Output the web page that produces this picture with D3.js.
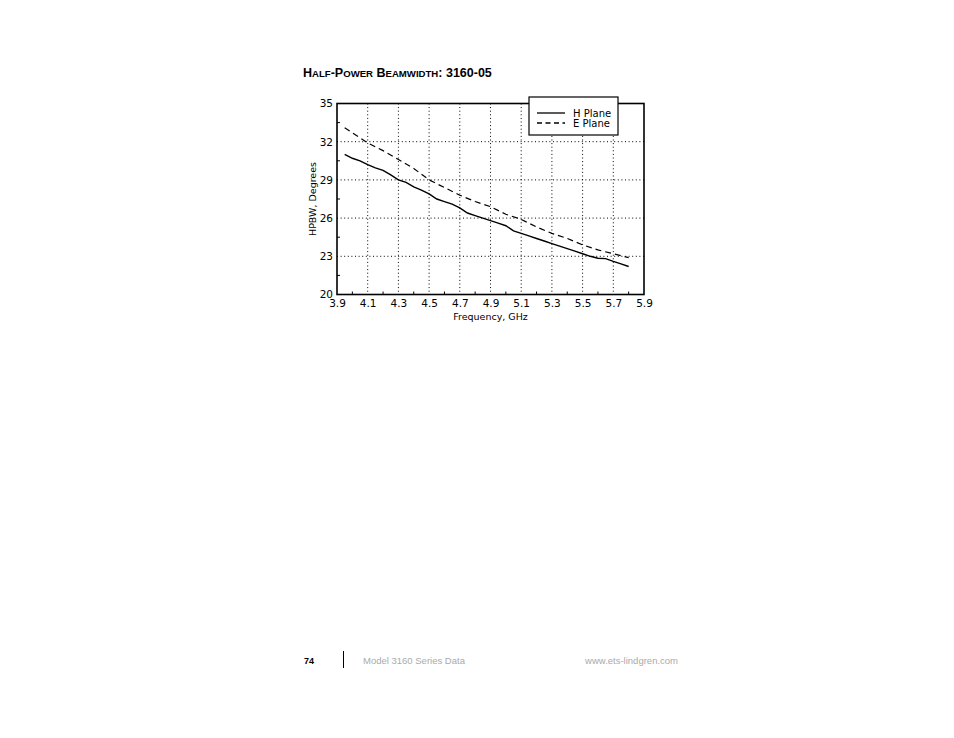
<!DOCTYPE html>
<html>
<head>
<meta charset="utf-8">
<script src="https://cdn.jsdelivr.net/npm/d3@7"></script>
<style>
  body { margin: 0; background: #fff; }
  svg { display: block; }
</style>
</head>
<body>
<svg id="page" width="954" height="738"></svg>
<script>
// data
const freqH = [3.95, 4.0, 4.05, 4.1, 4.15, 4.2, 4.25, 4.3, 4.35, 4.4, 4.45, 4.5, 4.55, 4.6, 4.65, 4.7, 4.75, 4.8, 4.85, 4.9,
  4.95, 5.0, 5.05, 5.1, 5.15, 5.2, 5.25, 5.3, 5.35, 5.4, 5.45, 5.5, 5.55, 5.6, 5.65, 5.7, 5.75, 5.8];
const hPlane = [31.0, 30.7, 30.5, 30.2, 29.95, 29.75, 29.4, 29.0, 28.8, 28.45, 28.2, 27.9, 27.5, 27.3, 27.1, 26.8, 26.4, 26.2, 26.0, 25.8,
  25.6, 25.4, 25.0, 24.8, 24.6, 24.4, 24.2, 24.0, 23.8, 23.6, 23.4, 23.2, 23.0, 22.85, 22.82, 22.6, 22.4, 22.2];
const freqE = [3.95, 4.0, 4.1, 4.2, 4.3, 4.4, 4.5, 4.6, 4.7, 4.8, 4.9, 5.0, 5.1, 5.2, 5.3, 5.4, 5.5, 5.6, 5.7, 5.8];
const ePlane = [33.1, 32.7, 31.9, 31.3, 30.6, 29.9, 29.0, 28.4, 27.8, 27.3, 26.9, 26.3, 25.9, 25.3, 24.8, 24.4, 23.9, 23.5, 23.2, 22.9];
const xTicks = [3.9, 4.1, 4.3, 4.5, 4.7, 4.9, 5.1, 5.3, 5.5, 5.7, 5.9];
const yTicks = [20, 23, 26, 29, 32, 35];
const seriesNames = ['H Plane', 'E Plane'];

const svg = d3.select('#page');
const plotFont = '"DejaVu Sans", sans-serif';
const pageFont = '"Liberation Sans", Arial, sans-serif';

const x = d3.scaleLinear().domain([3.9, 5.9]).range([337, 644]);
const y = d3.scaleLinear().domain([20, 35]).range([294.5, 103.5]);

// title, small caps built by hand (lower case drawn as smaller capitals)
const title = svg.append('text')
  .attr('x', 303).attr('y', 77)
  .style('font-family', pageFont)
  .style('font-weight', 'bold');
'Half-Power Beamwidth: 3160-05'.match(/[a-z]+|[^a-z]+/g).forEach((part) => {
  const small = /[a-z]/.test(part);
  title.append('tspan')
    .style('font-size', small ? '9.6px' : '12.5px')
    .text(part.toUpperCase());
});

const g = svg.append('g');

// dotted grid
g.selectAll('.gx').data(xTicks.slice(1, -1)).enter().append('line')
  .attr('x1', (d) => x(d)).attr('x2', (d) => x(d))
  .attr('y1', y(35)).attr('y2', y(20))
  .attr('stroke', '#000').attr('stroke-width', 1)
  .attr('stroke-dasharray', '1,2.6');
g.selectAll('.gy').data(yTicks.slice(1, -1)).enter().append('line')
  .attr('x1', x(3.9)).attr('x2', x(5.9))
  .attr('y1', (d) => y(d)).attr('y2', (d) => y(d))
  .attr('stroke', '#000').attr('stroke-width', 1)
  .attr('stroke-dasharray', '1,2.6');

// axes (labels only, ticks drawn as minor marks)
const xAxis = g.append('g')
  .attr('transform', `translate(0,${y(20)})`)
  .call(d3.axisBottom(x).tickValues(xTicks).tickSize(0).tickPadding(5).tickFormat(d3.format('.1f')));
const yAxis = g.append('g')
  .attr('transform', `translate(${x(3.9)},0)`)
  .call(d3.axisLeft(y).tickValues(yTicks).tickSize(0).tickPadding(4).tickFormat(d3.format('d')));
[xAxis, yAxis].forEach((a) => {
  a.select('.domain').remove();
  a.selectAll('text').style('font-family', plotFont).style('font-size', '10.5px').attr('fill', '#000');
});

// minor ticks
const xMinor = xTicks.slice(0, -1).map((d) => d + 0.1);
const yMinor = yTicks.slice(0, -1).map((d) => d + 1.5);
g.selectAll('.mx').data(xMinor).enter().append('line')
  .attr('x1', (d) => x(d)).attr('x2', (d) => x(d))
  .attr('y1', y(20)).attr('y2', y(20) - 3)
  .attr('stroke', '#000');
g.selectAll('.my').data(yMinor).enter().append('line')
  .attr('x1', x(3.9)).attr('x2', x(3.9) + 3)
  .attr('y1', (d) => y(d)).attr('y2', (d) => y(d))
  .attr('stroke', '#000');

// frame
g.append('rect')
  .attr('x', x(3.9)).attr('y', y(35))
  .attr('width', x(5.9) - x(3.9)).attr('height', y(20) - y(35))
  .attr('fill', 'none').attr('stroke', '#000').attr('stroke-width', 1.6);

// curves
const hData = freqH.map((f, i) => [f, hPlane[i]]);
const eData = freqE.map((f, i) => [f, ePlane[i]]);
const line = d3.line().x((d) => x(d[0])).y((d) => y(d[1]));
g.append('path').datum(hData)
  .attr('d', line).attr('fill', 'none')
  .attr('stroke', '#000').attr('stroke-width', 1.4);
g.append('path').datum(eData)
  .attr('d', line).attr('fill', 'none')
  .attr('stroke', '#000').attr('stroke-width', 1.2)
  .attr('stroke-dasharray', '6,4');

// axis titles
svg.append('text')
  .attr('x', (x(3.9) + x(5.9)) / 2).attr('y', 320)
  .attr('text-anchor', 'middle')
  .style('font-family', plotFont).style('font-size', '9.5px')
  .text('Frequency, GHz');
svg.append('text')
  .attr('transform', `translate(316,${(y(20) + y(35)) / 2}) rotate(-90)`)
  .attr('text-anchor', 'middle')
  .style('font-family', plotFont).style('font-size', '9.5px')
  .text('HPBW, Degrees');

// legend
const legend = svg.append('g');
legend.append('rect')
  .attr('x', 529).attr('y', 97).attr('width', 89).attr('height', 38)
  .attr('fill', '#fff').attr('stroke', '#000').attr('stroke-width', 1.2);
seriesNames.forEach((name, i) => {
  const ly = 113 + i * 10;
  legend.append('line')
    .attr('x1', 537).attr('x2', 565).attr('y1', ly).attr('y2', ly)
    .attr('stroke', '#000').attr('stroke-width', 1.3)
    .attr('stroke-dasharray', i === 0 ? null : '5,3.5');
  legend.append('text')
    .attr('x', 573).attr('y', ly + 3.5)
    .style('font-family', plotFont).style('font-size', '10px')
    .text(name);
});

// page footer
svg.append('text')
  .attr('x', 304).attr('y', 664)
  .style('font-family', pageFont)
  .style('font-weight', 'bold').style('font-size', '9px')
  .text('74');
svg.append('line')
  .attr('x1', 343.5).attr('x2', 343.5).attr('y1', 651).attr('y2', 668)
  .attr('stroke', '#000').attr('stroke-width', 1);
svg.append('text')
  .attr('x', 363).attr('y', 664)
  .style('font-family', pageFont)
  .style('font-size', '9.5px').attr('fill', '#aaa')
  .text('Model 3160 Series Data');
svg.append('text')
  .attr('x', 678).attr('y', 664).attr('text-anchor', 'end')
  .style('font-family', pageFont)
  .style('font-size', '9.5px').attr('fill', '#aaa')
  .text('www.ets-lindgren.com');
</script>
</body>
</html>
